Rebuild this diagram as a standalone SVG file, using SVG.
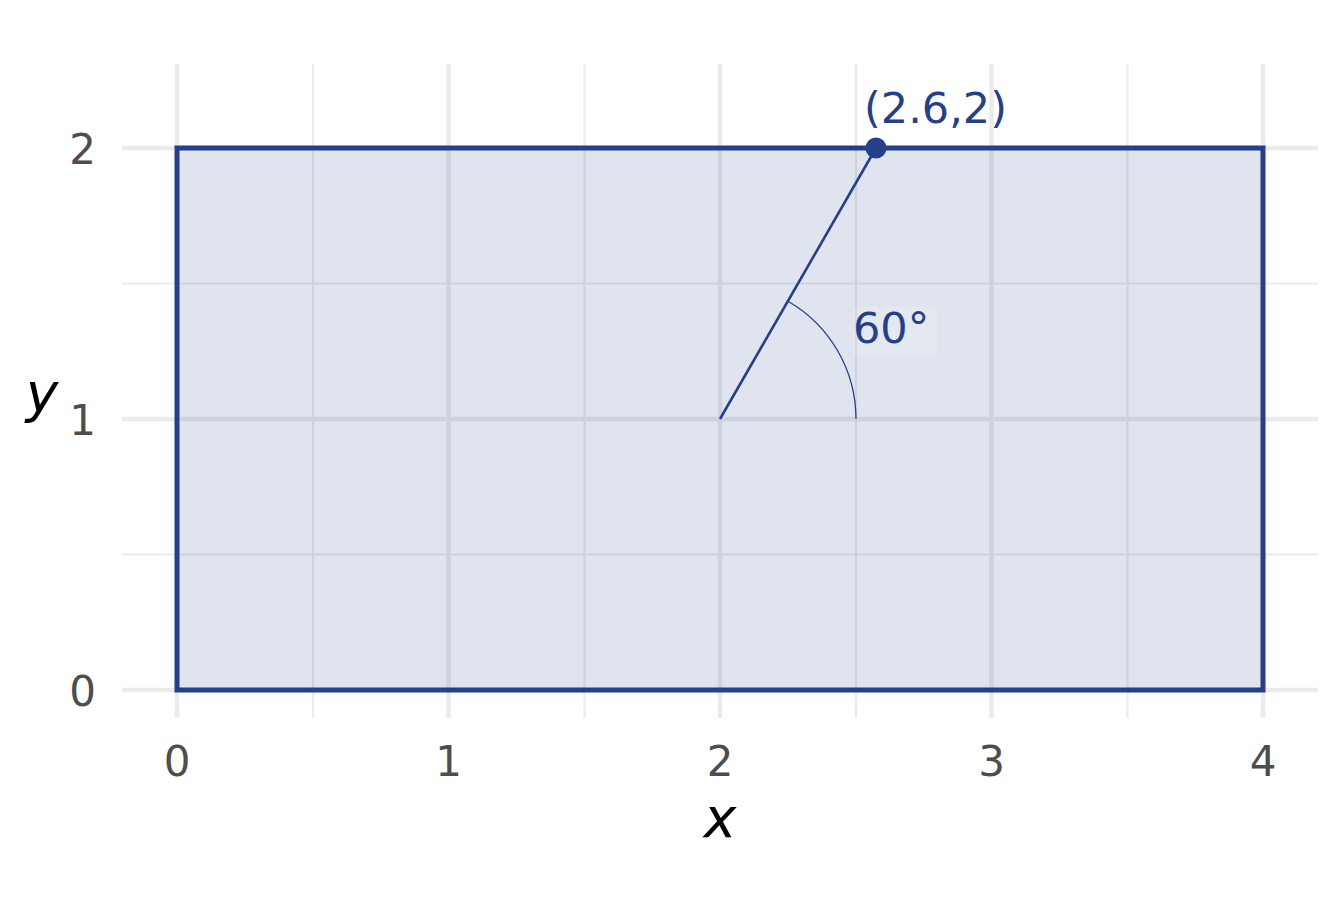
<svg xmlns="http://www.w3.org/2000/svg" width="1344" height="912" viewBox="0 0 1344 912">
<style>
.major{stroke:#ebebeb;stroke-width:4.5;fill:none}
.minor{stroke:#ebebeb;stroke-width:2.2;fill:none}
.tick{font-family:"DejaVu Sans",sans-serif;font-size:42px;fill:#4d4d4d}
.title{font-family:"DejaVu Sans",sans-serif;font-size:55px;font-style:italic;fill:#000}
.lab{font-family:"DejaVu Sans",sans-serif;font-size:43px;fill:#253f8a}
</style>
<rect width="1344" height="912" fill="#fff"/>
<g id="grid">
<path class="minor" d="M313,64V718M584.5,64V718M856,64V718M1127.5,64V718M122,283.5H1318M122,554.5H1318"/>
<path class="major" d="M177,64V718M448.5,64V718M720,64V718M991.5,64V718M1263,64V718M122,148H1318M122,419H1318M122,690H1318"/>
</g>
<g id="rectangle">
<rect x="177" y="148" width="1086" height="542" fill="#253f8a" fill-opacity="0.14" stroke="#253f8a" stroke-width="5"/>
</g>
<g id="angle-label">
<rect x="853" y="307" width="84" height="50" fill="#ffffff" fill-opacity="0.15"/>
<text class="lab" x="853" y="343">60°</text>
</g>
<g id="connectors">
<line x1="720" y1="419" x2="876" y2="148" stroke="#253f8a" stroke-width="2.6"/>
<path d="M856,419A136,136 0 0 0 788,301.2" fill="none" stroke="#253f8a" stroke-width="1.3"/>
</g>
<g id="point">
<circle cx="876" cy="148" r="10.5" fill="#253f8a"/>
<text class="lab" x="864" y="123">(2.6,2)</text>
</g>
<g id="axes">
<text class="tick" x="177" y="776" text-anchor="middle">0</text>
<text class="tick" x="448.5" y="776" text-anchor="middle">1</text>
<text class="tick" x="720" y="776" text-anchor="middle">2</text>
<text class="tick" x="991.5" y="776" text-anchor="middle">3</text>
<text class="tick" x="1263" y="776" text-anchor="middle">4</text>
<text class="tick" x="96" y="164" text-anchor="end">2</text>
<text class="tick" x="96" y="435" text-anchor="end">1</text>
<text class="tick" x="96" y="706" text-anchor="end">0</text>
<text class="title" x="720" y="837" text-anchor="middle">x</text>
<text class="title" x="42" y="412" text-anchor="middle">y</text>
</g>
</svg>
